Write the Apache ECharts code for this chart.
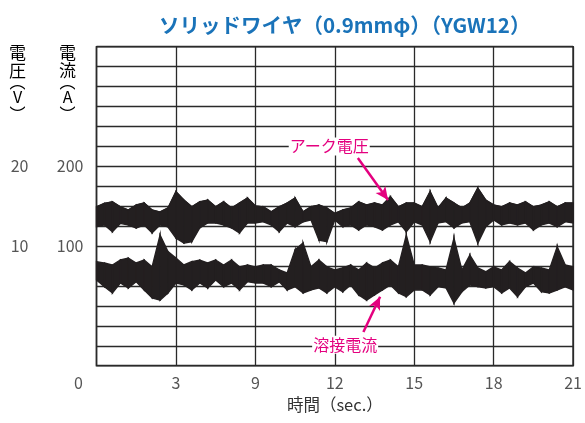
<!DOCTYPE html>
<html><head><meta charset="utf-8">
<script src="https://cdn.jsdelivr.net/npm/echarts@6/dist/echarts.min.js"></script>
<style>html,body{margin:0;padding:0;background:#fff}#c{width:585px;height:423px}</style>
</head><body><div id="c"></div>
<script>
// x: grid divisions (0..6), labels as printed on the original
const timeLabels = ['0', '3', '9', '12', '15', '18', '21'];
// y: grid divisions (0..16); labelled divisions
const yTickPos = [6, 10];
const currentTickText = ['100', '200'];
const voltageTickText = ['10', '20'];
const sampleStep = 0.1; // divisions between samples

// arc voltage trace: upper / lower edge of the trace (grid divisions)
const voltHigh = [7.97,8.14,8.22,7.97,7.81,8.06,8.16,7.81,7.71,7.91,8.73,8.31,7.97,8.22,8.31,7.97,8.22,7.91,8.16,8.41,
  8.01,7.97,7.72,7.97,8.16,8.41,7.72,7.97,8.06,7.91,7.64,7.81,7.91,8.22,8.06,8.16,8.06,8.48,7.97,8.16,
  8.16,7.97,8.73,7.91,8.41,8.16,7.91,8.16,8.91,8.31,8.06,7.97,8.16,8.06,8.22,7.97,8.06,8.22,7.97,8.16,8.16];
const voltLow = [6.97,7.06,6.72,7.14,7.06,6.91,7.06,6.66,7.06,6.96,6.40,6.15,6.22,6.91,7.16,7.16,7.06,6.91,6.66,7.16,
  7.16,7.22,7.06,6.72,7.16,6.97,7.22,7.31,6.30,6.22,7.31,6.97,7.06,6.81,7.06,6.97,6.81,7.06,7.22,6.72,
  7.22,7.06,6.22,7.16,7.22,6.91,7.16,7.22,6.15,6.97,7.31,7.06,7.16,7.06,7.16,6.81,7.06,7.16,6.97,7.22,7.16];
// welding current trace
const currHigh = [5.22,5.15,5.05,5.30,5.40,5.15,5.30,4.96,6.55,5.72,5.40,5.05,5.22,5.30,5.15,5.30,5.05,5.30,4.96,5.05,
  4.95,5.05,5.05,4.80,4.65,5.81,6.15,4.96,5.30,4.96,4.80,4.90,5.05,4.80,5.15,4.90,5.15,5.30,4.96,6.55,
  5.05,5.05,4.96,4.90,4.80,6.40,4.80,5.55,4.90,4.71,4.96,4.80,5.22,4.90,4.65,4.96,4.90,4.80,5.97,5.05,4.96];
const currLow = [4.30,3.96,3.65,4.15,3.90,4.21,3.80,3.40,3.29,3.65,4.15,4.05,3.80,4.15,3.90,4.30,3.96,4.15,3.80,4.21,
  4.15,4.15,3.96,4.21,3.80,3.96,3.65,3.80,3.90,3.65,3.96,3.71,4.05,3.55,3.29,3.55,3.80,4.05,3.65,3.46,
  3.80,3.80,3.55,3.96,3.90,3.14,3.71,4.05,3.96,3.90,3.96,3.65,3.90,3.46,3.96,4.15,3.71,3.65,3.80,3.96,3.80];

const FONT = 'Noto Sans CJK JP';
const PINK = '#e4007f';
const INK = '#231f20';

// band between upper and lower edge, drawn segment by segment through the axes' coord()
function bandSeries(name, high, low, extra) {
  return Object.assign({
    name: name, type: 'custom', z: 3,
    encode: {x: 0, y: [1, 2]},
    data: high.map((h, i) => [i * sampleStep, h, low[i]]),
    renderItem: function (params, api) {
      const i = params.dataIndexInside;
      if (i >= params.dataInsideLength - 1) return null;
      const a1 = api.coord([api.value(0, i), api.value(1, i)]);
      const b1 = api.coord([api.value(0, i + 1), api.value(1, i + 1)]);
      const b2 = api.coord([api.value(0, i + 1), api.value(2, i + 1)]);
      const a2 = api.coord([api.value(0, i), api.value(2, i)]);
      return {
        type: 'polygon',
        shape: {points: [a1, b1, b2, a2]},
        style: {fill: INK, stroke: INK, lineWidth: 1.4, lineJoin: 'miter'}
      };
    }
  }, extra || {});
}

const chart = echarts.init(document.getElementById('c'), null, {renderer: 'canvas'});
const gridLine = {show: true, lineStyle: {color: '#2a2a2a', width: 1.3}};
const vRich = {
  a: {fontFamily: FONT, fontSize: 17, lineHeight: 18, color: '#333', align: 'center'},
  p: {fontFamily: FONT, fontSize: 16, lineHeight: 4, color: '#333', align: 'center'},
  v: {fontFamily: FONT, fontSize: 16, lineHeight: 26, color: '#333', align: 'center'},
  q: {fontFamily: FONT, fontSize: 16, lineHeight: 8, color: '#333', align: 'center'}
};

chart.setOption({
  animation: false,
  backgroundColor: '#fff',
  title: {
    text: 'ソリッドワイヤ（0.9mmφ）（YGW12）',
    left: 154, top: 10,
    textStyle: {fontFamily: FONT, fontSize: 20.5, fontWeight: 'bold', color: '#1a73b9'}
  },
  grid: {left: 96.5, right: 8, top: 46.7, bottom: 57.3, show: true,
         borderColor: '#222', borderWidth: 1.6, backgroundColor: 'transparent'},
  xAxis: {
    type: 'value', min: 0, max: 6, interval: 1,
    axisLine: {show: false}, axisTick: {show: false},
    splitLine: gridLine,
    axisLabel: {
      fontFamily: FONT, fontSize: 16, color: '#555', margin: 9,
      showMinLabel: true, showMaxLabel: true,
      formatter: v => v === 0 ? '{z|' + timeLabels[0] + '}' : timeLabels[Math.round(v)],
      rich: {z: {fontFamily: FONT, fontSize: 16, color: '#555', padding: [0, 36, 0, 0]}}
    },
    name: '時間（sec.）', nameLocation: 'middle', nameGap: 31,
    nameTextStyle: {fontFamily: FONT, fontSize: 16.5, color: '#333'}
  },
  yAxis: [
    {
      type: 'value', min: 0, max: 16, interval: 1, position: 'left',
      axisLine: {show: false}, axisTick: {show: false},
      splitLine: gridLine,
      axisLabel: {
        fontFamily: FONT, fontSize: 16, color: '#555', margin: 13,
        formatter: v => { const k = yTickPos.indexOf(v); return k >= 0 ? currentTickText[k] : ''; }
      }
    },
    {
      type: 'value', min: 0, max: 16, interval: 1, position: 'left', offset: 55,
      axisLine: {show: false}, axisTick: {show: false}, splitLine: {show: false},
      axisLabel: {
        fontFamily: FONT, fontSize: 16, color: '#555', margin: 13,
        formatter: v => { const k = yTickPos.indexOf(v); return k >= 0 ? voltageTickText[k] : ''; }
      }
    }
  ],
  series: [
    bandSeries('アーク電圧', voltHigh, voltLow),
    bandSeries('溶接電流', currHigh, currLow),
    {
      name: 'アーク電圧', type: 'line', z: 4,
      data: voltHigh.map((v, i) => [i * sampleStep, v]),
      showSymbol: false, symbol: 'none',
      lineStyle: {color: INK, width: 1.2},
      markLine: {
        silent: true, symbol: ['none', 'arrow'], symbolSize: [9, 13],
        lineStyle: {color: PINK, width: 2.5, type: 'solid'}, label: {show: false},
        data: [
          [{coord: [3.29, 10.42]}, {coord: [3.67, 8.31]}],
          [{coord: [3.36, 1.69]}, {coord: [3.57, 3.46]}]
        ]
      },
      markPoint: {
        silent: true, symbol: 'rect', symbolSize: 1, itemStyle: {color: 'rgba(0,0,0,0)'},
        label: {show: true, position: 'inside', fontFamily: FONT, fontSize: 16, color: PINK,
                backgroundColor: '#fff', padding: [1, 1]},
        data: [
          {coord: [2.93, 11], label: {formatter: 'アーク電圧'}},
          {coord: [3.13, 1.05], label: {formatter: '溶接電流'}}
        ]
      }
    }
  ],
  graphic: [
    {type: 'text', left: 9, top: 44.5, style: {
      text: '{a|電}\n{a|圧}\n{p|︵}\n{v|V}\n{q|︶}', align: 'center', rich: vRich}},
    {type: 'text', left: 59, top: 44.5, style: {
      text: '{a|電}\n{a|流}\n{p|︵}\n{v|A}\n{q|︶}', align: 'center', rich: vRich}}
  ]
});
</script></body></html>
